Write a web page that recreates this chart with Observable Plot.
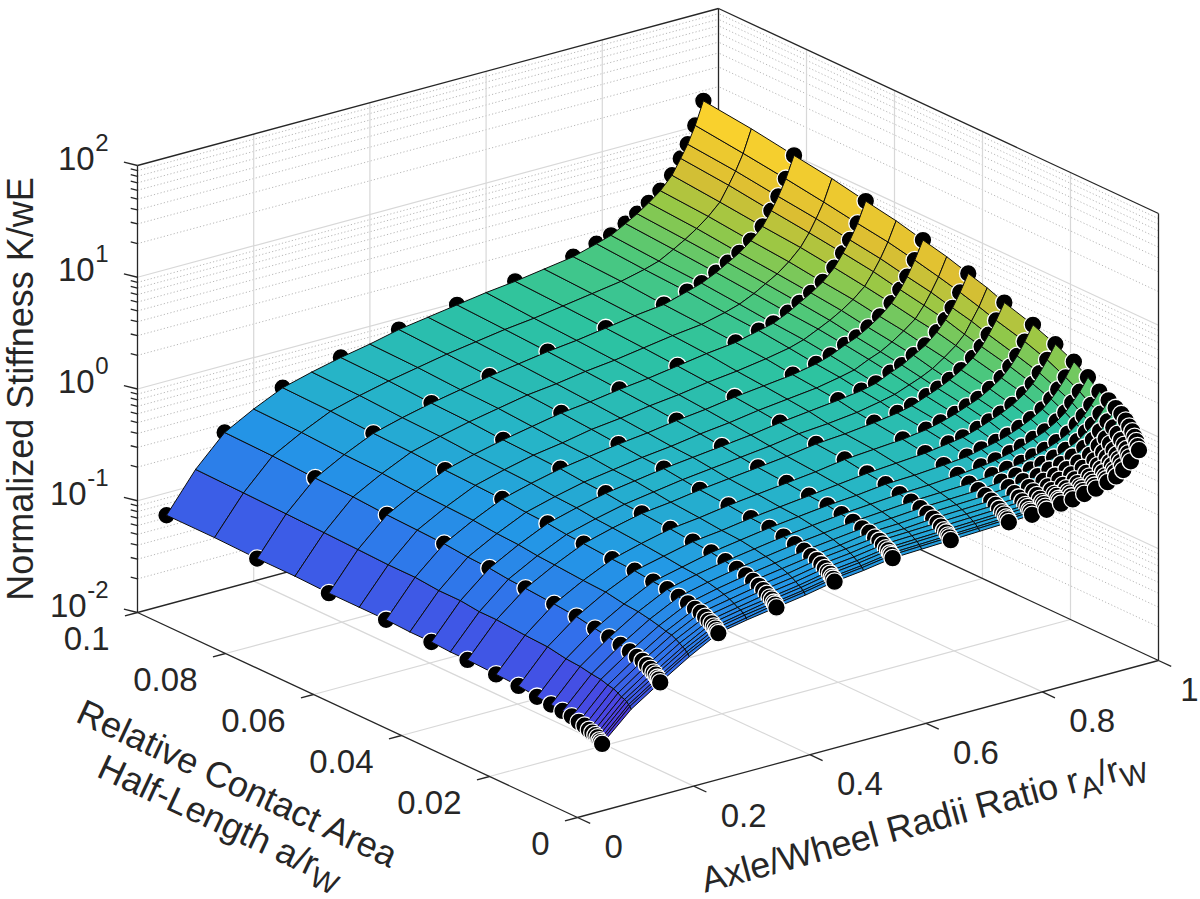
<!DOCTYPE html>
<html>
<head>
<meta charset="utf-8">
<script src="https://cdn.jsdelivr.net/npm/d3@7"></script>
<script src="https://cdn.jsdelivr.net/npm/@observablehq/plot@0.6"></script>
<style>
  html, body { margin: 0; padding: 0; background: #ffffff; }
  #chart { width: 1200px; height: 899px; }
</style>
</head>
<body>
<div id="chart"></div>
<script>
// ------------------------------------------------------------------
// DATA
// ------------------------------------------------------------------
// surface grid: axle/wheel radii ratio rA/rW (columns)
const rAGrid = [0.05, 0.10, 0.15, 0.20, 0.25, 0.30, 0.35, 0.40, 0.45, 0.50, 0.55, 0.60, 0.65,
                0.70, 0.75, 0.79, 0.815, 0.84, 0.86, 0.88, 0.90, 0.92, 0.935, 0.947, 0.96, 0.974];
// surface grid: relative contact half-length a/rW (rows)
const aGrid = [0.1, 0.0891, 0.0794, 0.0708, 0.0631, 0.0562, 0.0501, 0.0447, 0.0398, 0.0355,
               0.0316, 0.0251, 0.0200, 0.0158, 0.0126, 0.0100, 0.0079, 0.0063, 0.0050, 0.0040,
               0.0032, 0.0025, 0.0020, 0.0016, 0.0013, 0.0010];
// log10 of normalized stiffness K/wE; one array per rAGrid column, values follow aGrid
const log10K = [
  [-1.20,-1.20,-1.21,-1.21,-1.22,-1.22,-1.22,-1.23,-1.23,-1.24,-1.24,-1.25,-1.26,-1.28,-1.29,-1.30,-1.31,-1.33,-1.34,-1.36,-1.37,-1.38,-1.39,-1.41,-1.42,-1.43],
  [-0.86,-0.87,-0.88,-0.89,-0.90,-0.91,-0.91,-0.93,-0.93,-0.95,-0.95,-0.97,-0.98,-1.01,-1.02,-1.04,-1.05,-1.07,-1.08,-1.10,-1.12,-1.13,-1.14,-1.16,-1.17,-1.19],
  [-0.60,-0.61,-0.63,-0.64,-0.66,-0.67,-0.68,-0.70,-0.71,-0.73,-0.74,-0.76,-0.78,-0.81,-0.83,-0.85,-0.87,-0.89,-0.90,-0.92,-0.94,-0.96,-0.97,-0.99,-1.00,-1.02],
  [-0.46,-0.47,-0.49,-0.50,-0.52,-0.53,-0.54,-0.56,-0.57,-0.59,-0.60,-0.62,-0.63,-0.66,-0.67,-0.69,-0.71,-0.73,-0.74,-0.76,-0.78,-0.80,-0.81,-0.83,-0.84,-0.86],
  [-0.34,-0.35,-0.37,-0.38,-0.40,-0.41,-0.42,-0.44,-0.45,-0.47,-0.48,-0.50,-0.51,-0.53,-0.54,-0.56,-0.58,-0.60,-0.61,-0.63,-0.65,-0.66,-0.68,-0.69,-0.71,-0.72],
  [-0.27,-0.28,-0.30,-0.31,-0.33,-0.34,-0.35,-0.37,-0.38,-0.40,-0.41,-0.43,-0.45,-0.47,-0.48,-0.50,-0.52,-0.54,-0.56,-0.58,-0.60,-0.61,-0.63,-0.64,-0.66,-0.67],
  [-0.21,-0.22,-0.24,-0.25,-0.27,-0.28,-0.29,-0.31,-0.32,-0.34,-0.35,-0.37,-0.39,-0.41,-0.43,-0.45,-0.47,-0.49,-0.51,-0.53,-0.55,-0.57,-0.58,-0.60,-0.61,-0.63],
  [-0.16,-0.17,-0.19,-0.20,-0.22,-0.24,-0.25,-0.27,-0.28,-0.30,-0.32,-0.34,-0.36,-0.37,-0.39,-0.41,-0.43,-0.45,-0.47,-0.49,-0.51,-0.53,-0.54,-0.56,-0.57,-0.59],
  [-0.10,-0.12,-0.14,-0.15,-0.17,-0.19,-0.21,-0.23,-0.24,-0.26,-0.28,-0.30,-0.32,-0.33,-0.35,-0.37,-0.39,-0.41,-0.42,-0.44,-0.46,-0.48,-0.49,-0.51,-0.52,-0.54],
  [-0.06,-0.08,-0.10,-0.12,-0.14,-0.16,-0.18,-0.20,-0.21,-0.23,-0.25,-0.27,-0.29,-0.30,-0.32,-0.34,-0.36,-0.38,-0.39,-0.41,-0.43,-0.45,-0.46,-0.48,-0.49,-0.51],
  [-0.02,-0.04,-0.06,-0.08,-0.10,-0.12,-0.14,-0.16,-0.18,-0.20,-0.22,-0.24,-0.26,-0.27,-0.29,-0.31,-0.33,-0.34,-0.36,-0.37,-0.39,-0.41,-0.42,-0.44,-0.45,-0.47],
  [ 0.02,-0.01,-0.03,-0.05,-0.07,-0.09,-0.11,-0.13,-0.15,-0.17,-0.19,-0.21,-0.23,-0.25,-0.27,-0.29,-0.31,-0.33,-0.35,-0.36,-0.38,-0.40,-0.41,-0.43,-0.44,-0.46],
  [ 0.05, 0.03, 0.01,-0.01,-0.03,-0.05,-0.07,-0.09,-0.11,-0.13,-0.15,-0.17,-0.20,-0.22,-0.25,-0.27,-0.29,-0.31,-0.33,-0.35,-0.37,-0.39,-0.40,-0.42,-0.43,-0.45],
  [ 0.09, 0.07, 0.05, 0.03, 0.01,-0.02,-0.04,-0.06,-0.08,-0.11,-0.13,-0.15,-0.18,-0.21,-0.24,-0.26,-0.28,-0.30,-0.32,-0.34,-0.36,-0.38,-0.39,-0.41,-0.42,-0.44],
  [ 0.13, 0.11, 0.08, 0.06, 0.04, 0.02,-0.01,-0.03,-0.05,-0.08,-0.10,-0.13,-0.16,-0.19,-0.22,-0.25,-0.27,-0.29,-0.31,-0.33,-0.35,-0.37,-0.38,-0.40,-0.41,-0.43],
  [ 0.19, 0.16, 0.14, 0.11, 0.09, 0.06, 0.03, 0.01,-0.02,-0.04,-0.07,-0.10,-0.13,-0.17,-0.20,-0.23,-0.25,-0.27,-0.30,-0.32,-0.34,-0.36,-0.37,-0.39,-0.40,-0.42],
  [ 0.23, 0.20, 0.18, 0.15, 0.12, 0.10, 0.07, 0.04, 0.01,-0.01,-0.04,-0.07,-0.11,-0.14,-0.18,-0.21,-0.23,-0.25,-0.28,-0.30,-0.32,-0.34,-0.36,-0.37,-0.39,-0.41],
  [ 0.30, 0.27, 0.24, 0.21, 0.18, 0.16, 0.13, 0.10, 0.07, 0.04, 0.01,-0.03,-0.07,-0.11,-0.15,-0.19,-0.21,-0.24,-0.26,-0.29,-0.31,-0.33,-0.34,-0.36,-0.37,-0.39],
  [ 0.36, 0.33, 0.30, 0.27, 0.24, 0.21, 0.17, 0.14, 0.11, 0.08, 0.05, 0.01,-0.03,-0.08,-0.12,-0.16,-0.19,-0.21,-0.24,-0.26,-0.29,-0.31,-0.33,-0.34,-0.36,-0.38],
  [ 0.43, 0.40, 0.36, 0.33, 0.30, 0.27, 0.23, 0.20, 0.17, 0.13, 0.10, 0.05, 0.01,-0.04,-0.08,-0.13,-0.16,-0.19,-0.21,-0.24,-0.27,-0.29,-0.31,-0.32,-0.34,-0.36],
  [ 0.51, 0.48, 0.44, 0.41, 0.37, 0.34, 0.30, 0.27, 0.23, 0.20, 0.16, 0.11, 0.06, 0.01,-0.04,-0.09,-0.12,-0.15,-0.18,-0.21,-0.24,-0.26,-0.28,-0.30,-0.32,-0.34],
  [ 0.62, 0.58, 0.54, 0.51, 0.47, 0.43, 0.39, 0.35, 0.32, 0.28, 0.24, 0.18, 0.13, 0.07, 0.02,-0.04,-0.07,-0.10,-0.14,-0.17,-0.20,-0.22,-0.24,-0.27,-0.29,-0.31],
  [ 0.75, 0.71, 0.66, 0.62, 0.58, 0.54, 0.49, 0.45, 0.41, 0.36, 0.32, 0.26, 0.20, 0.14, 0.08, 0.02,-0.01,-0.05,-0.08,-0.12,-0.15,-0.18,-0.20,-0.23,-0.25,-0.28],
  [ 0.86, 0.82, 0.77, 0.73, 0.68, 0.64, 0.59, 0.55, 0.50, 0.46, 0.41, 0.34, 0.28, 0.21, 0.15, 0.08, 0.04, 0.01,-0.03,-0.06,-0.10,-0.13,-0.16,-0.18,-0.21,-0.24],
  [ 1.01, 0.96, 0.91, 0.86, 0.81, 0.77, 0.72, 0.67, 0.62, 0.57, 0.52, 0.45, 0.38, 0.30, 0.23, 0.16, 0.12, 0.08, 0.05, 0.01,-0.03,-0.06,-0.09,-0.12,-0.15,-0.18],
  [ 1.21, 1.16, 1.10, 1.05, 0.99, 0.94, 0.88, 0.83, 0.77, 0.72, 0.66, 0.58, 0.50, 0.42, 0.34, 0.26, 0.22, 0.18, 0.15, 0.11, 0.07, 0.04, 0.00,-0.03,-0.07,-0.10]
];
// the black sample points sit on these grid columns / rows
const sampleRA = [0.05, 0.15, 0.25, 0.35, 0.45, 0.55, 0.65, 0.75, 0.79, 0.815,
                  0.84, 0.86, 0.88, 0.90, 0.92, 0.935, 0.947, 0.96, 0.974];
const sampleA = [0.1, 0.0794, 0.0631, 0.0501, 0.0398, 0.0316, 0.0251, 0.0200, 0.0158, 0.0126,
                 0.0100, 0.0079, 0.0063, 0.0050, 0.0040, 0.0032, 0.0025, 0.0020, 0.0016, 0.0013, 0.0010];
// axis ticks
const rATicks = [0, 0.2, 0.4, 0.6, 0.8, 1];
const aTicks = [0, 0.02, 0.04, 0.06, 0.08, 0.1];
const zExponents = [-2, -1, 0, 1, 2];
const zMinorFactors = [2, 3, 4, 5, 6, 7, 8, 9];
// texts
const zTitle = "Normalized Stiffness K/wE";
const aTitle1 = [["Relative Contact Area", "main"]];
const aTitle2 = [["Half-Length a/r", "main"], ["W", "sub"]];
const rATitle = [["Axle/Wheel Radii Ratio r", "main"], ["A", "sub"], ["/r", "main"], ["W", "sub"]];
// surface colour map (parula-like, as seen in the picture)
const colorStops = [-1.43, -1.30, -0.90, -0.50, -0.25, 0.00, 0.20, 0.45, 0.70, 1.10, 1.21];
const colorRange = ["#5032d2", "#4e3ee0", "#326eeb", "#2398e6", "#26b4c8", "#2dc3a0",
                    "#50c878", "#96c846", "#dcbe32", "#fad22d", "#fadc28"];

// ------------------------------------------------------------------
// 3-D projection (orthographic view of the MATLAB box)
// ------------------------------------------------------------------
const FONT = '"Liberation Sans", Arial, Helvetica, sans-serif';
const INK = "#262626";
const WIDTH = 1200, HEIGHT = 899;
const origin = [577, 817];      // screen point of rA=0, a=0, K=1e-2
const uVec = [581, -157];       // whole rA axis on screen
const vVec = [-440, -205];      // whole a axis on screen
const zLen = 447;               // whole z axis (four decades)

const su = d3.scaleLinear().domain([0, 1]).range([0, 1]);
const sv = d3.scaleLinear().domain([0, 0.1]).range([0, 1]);
const sw = d3.scaleLinear().domain([-2, 2]).range([0, 1]);

function P(rA, a, lk) {
  const u = su(rA), v = sv(a), w = sw(lk);
  return {
    X: origin[0] + uVec[0] * u + vVec[0] * v,
    Y: origin[1] + uVec[1] * u + vVec[1] * v - zLen * w
  };
}
const seg = (p, q) => ({x1: p.X, y1: p.Y, x2: q.X, y2: q.Y});
const unit = (x, y) => { const l = Math.hypot(x, y); return [x / l, y / l]; };

// grid
const innerR = rATicks.filter(t => t > 0 && t < 1);
const innerA = aTicks.filter(t => t > 0 && t < 0.1);
const majorZ = zExponents.filter(e => e > -2 && e < 2);
const minorZ = [];
for (const e of zExponents.slice(0, -1)) for (const m of zMinorFactors) minorZ.push(e + Math.log10(m));

const gridMajor = [
  ...innerR.map(t => seg(P(t, 0.1, -2), P(t, 0.1, 2))),
  ...innerA.map(t => seg(P(1, t, -2), P(1, t, 2))),
  ...majorZ.map(z => seg(P(0, 0.1, z), P(1, 0.1, z))),
  ...majorZ.map(z => seg(P(1, 0, z), P(1, 0.1, z))),
  ...innerR.map(t => seg(P(t, 0, -2), P(t, 0.1, -2))),
  ...innerA.map(t => seg(P(0, t, -2), P(1, t, -2)))
];
const gridMinor = [
  ...minorZ.map(z => seg(P(0, 0.1, z), P(1, 0.1, z))),
  ...minorZ.map(z => seg(P(1, 0, z), P(1, 0.1, z)))
];
const boxBack = [
  seg(P(0, 0.1, -2), P(1, 0.1, -2)), seg(P(1, 0.1, -2), P(1, 0, -2)),
  seg(P(1, 0.1, -2), P(1, 0.1, 2)),
  seg(P(0, 0.1, 2), P(1, 0.1, 2)), seg(P(1, 0.1, 2), P(1, 0, 2))
];
const boxFront = [
  seg(P(0, 0.1, -2), P(0, 0.1, 2)),
  seg(P(1, 0, -2), P(1, 0, 2)),
  seg(P(0, 0.1, -2), P(0, 0, -2)),
  seg(P(0, 0, -2), P(1, 0, -2))
];
const dirZ = unit(-0.97, -0.24);
const dirA = unit(-uVec[0], -uVec[1]);
const dirR = unit(-vVec[0], -vVec[1]);
const tickSeg = (p, d, len) => ({x1: p.X, y1: p.Y, x2: p.X + d[0] * len, y2: p.Y + d[1] * len});
const ticks = [
  ...zExponents.map(e => tickSeg(P(0, 0.1, e), dirZ, 14)),
  ...minorZ.map(z => tickSeg(P(0, 0.1, z), dirZ, 7)),
  ...aTicks.map(t => tickSeg(P(0, t, -2), dirA, 13)),
  ...rATicks.map(t => tickSeg(P(t, 0, -2), dirR, 14))
];

// ------------------------------------------------------------------
// surface strips and sample dots, drawn back (large a) to front (small a):
// each strip in front of a row of dots hides their lower half.
// ------------------------------------------------------------------
const nR = rAGrid.length, nA = aGrid.length;
const node = (i, j) => P(rAGrid[i], aGrid[j], log10K[i][j]);
const sampleCol = rAGrid.map(r => sampleRA.includes(r));
const sampleRow = aGrid.map(a => sampleA.includes(a));
const surfaceMarks = [];
let qid = 0;
for (let j = 0; j < nA; j++) {
  if (sampleRow[j]) {
    const dots = [];
    for (let i = 0; i < nR; i++) if (sampleCol[i]) {
      const p = node(i, j);
      dots.push({X: p.X, Y: p.Y, rA: rAGrid[i], a: aGrid[j], log10K: log10K[i][j]});
    }
    surfaceMarks.push(Plot.dot(dots, {x: "X", y: "Y", r: 8.8, fill: "black", stroke: "white", strokeWidth: 1.3}));
  }
  if (j < nA - 1) {
    const pts = [];
    for (let i = 0; i < nR - 1; i++) {
      const id = qid++;
      const val = (log10K[i][j] + log10K[i + 1][j] + log10K[i + 1][j + 1] + log10K[i][j + 1]) / 4;
      const c = [node(i, j), node(i + 1, j), node(i + 1, j + 1), node(i, j + 1)];
      for (const p of [...c, c[0]]) pts.push({id, X: p.X, Y: p.Y, val});
    }
    surfaceMarks.push(Plot.line(pts, {
      x: "X", y: "Y", z: "id", fill: "val",
      stroke: "#0d0d0d", strokeWidth: 1, strokeLinejoin: "round"
    }));
  }
}

// ------------------------------------------------------------------
// labels
// ------------------------------------------------------------------
const ctx = document.createElement("canvas").getContext("2d");
function textWidth(s, size) { ctx.font = `${size}px ${FONT}`; return ctx.measureText(s).width; }
const SIZE = {main: 36, sub: 29};
const SHIFT = {main: 0, sub: 8};
function richParts(parts, cx, cy, angleDeg) {
  const t = angleDeg * Math.PI / 180;
  const d = [Math.cos(t), Math.sin(t)], n = [-Math.sin(t), Math.cos(t)];
  const widths = parts.map(([s, k]) => textWidth(s, SIZE[k]));
  let s = -d3.sum(widths) / 2;
  return parts.map(([txt, k], i) => {
    const o = {text: txt, kind: k, rotate: angleDeg,
               x: cx + s * d[0] + SHIFT[k] * n[0], y: cy + s * d[1] + SHIFT[k] * n[1]};
    s += widths[i];
    return o;
  });
}
const aAngle = Math.atan2(-vVec[1], -vVec[0]) * 180 / Math.PI;
const rAngle = Math.atan2(uVec[1], uVec[0]) * 180 / Math.PI;
const aMid = P(0, 0.05, -2), rMid = P(0.5, 0, -2), zMid = P(0, 0.1, 0);
const aLine1 = [aMid.X - 124.5, aMid.Y + 80];
const aT = aAngle * Math.PI / 180;
const aLine2 = [aLine1[0] - 41 * Math.sin(aT), aLine1[1] + 41 * Math.cos(aT)];
const titleParts = [
  ...richParts(aTitle1, aLine1[0], aLine1[1], aAngle),
  ...richParts(aTitle2, aLine2[0], aLine2[1], aAngle),
  ...richParts(rATitle, rMid.X + 58.5, rMid.Y + 94, rAngle)
];

const expText = e => String(e);
const expW = e => textWidth(expText(e), 24);
// rA tick labels sit right of their tick; keep the last one inside the picture
const rALabelX = t => Math.min(P(t, 0, -2).X + 27, WIDTH - 2 - textWidth(String(t), 33));

const textMarks = [
  Plot.text(aTicks, {x: t => P(0, t, -2).X - 28, y: t => P(0, t, -2).Y + 27, text: t => String(t),
    textAnchor: "end", lineAnchor: "middle", fontSize: 33, fill: INK}),
  Plot.text(rATicks, {x: rALabelX, y: t => P(t, 0, -2).Y + 30, text: t => String(t),
    textAnchor: "start", lineAnchor: "middle", fontSize: 33, fill: INK}),
  Plot.text(zExponents, {x: e => P(0, 0.1, e).X - 29 - expW(e) - 0.5, y: e => P(0, 0.1, e).Y + 4,
    text: () => "10", textAnchor: "end", lineAnchor: "bottom", fontSize: 33, fill: INK}),
  Plot.text(zExponents, {x: e => P(0, 0.1, e).X - 29, y: e => P(0, 0.1, e).Y - 15,
    text: expText, textAnchor: "end", lineAnchor: "bottom", fontSize: 24, fill: INK}),
  Plot.text([zTitle], {x: zMid.X - 116.5, y: zMid.Y, text: d => d, rotate: -90,
    textAnchor: "middle", lineAnchor: "middle", fontSize: 36, fill: INK}),
  Plot.text(titleParts.filter(p => p.kind === "main"), {x: "x", y: "y", text: "text", rotate: "rotate",
    textAnchor: "start", lineAnchor: "bottom", fontSize: SIZE.main, fill: INK}),
  Plot.text(titleParts.filter(p => p.kind === "sub"), {x: "x", y: "y", text: "text", rotate: "rotate",
    textAnchor: "start", lineAnchor: "bottom", fontSize: SIZE.sub, fill: INK})
];

// ------------------------------------------------------------------
// plot
// ------------------------------------------------------------------
const chart = Plot.plot({
  width: WIDTH,
  height: HEIGHT,
  margin: 0,
  x: {domain: [0, WIDTH], range: [0, WIDTH], axis: null},
  y: {domain: [0, HEIGHT], range: [0, HEIGHT], axis: null},
  color: {type: "linear", domain: colorStops, range: colorRange, interpolate: "rgb"},
  style: {fontFamily: FONT, background: "#ffffff", color: INK, overflow: "visible"},
  marks: [
    Plot.link(gridMinor, {x1: "x1", y1: "y1", x2: "x2", y2: "y2", stroke: "#b8b8b8",
      strokeWidth: 1, strokeDasharray: "1.2,2.2"}),
    Plot.link(gridMajor, {x1: "x1", y1: "y1", x2: "x2", y2: "y2", stroke: "#d8d8d8", strokeWidth: 1.2}),
    Plot.link(boxBack, {x1: "x1", y1: "y1", x2: "x2", y2: "y2", stroke: INK, strokeWidth: 1.3}),
    ...surfaceMarks,
    Plot.link(boxFront, {x1: "x1", y1: "y1", x2: "x2", y2: "y2", stroke: INK, strokeWidth: 1.3}),
    Plot.link(ticks, {x1: "x1", y1: "y1", x2: "x2", y2: "y2", stroke: INK, strokeWidth: 1.3}),
    ...textMarks
  ]
});
document.getElementById("chart").appendChild(chart);
</script>
</body>
</html>
